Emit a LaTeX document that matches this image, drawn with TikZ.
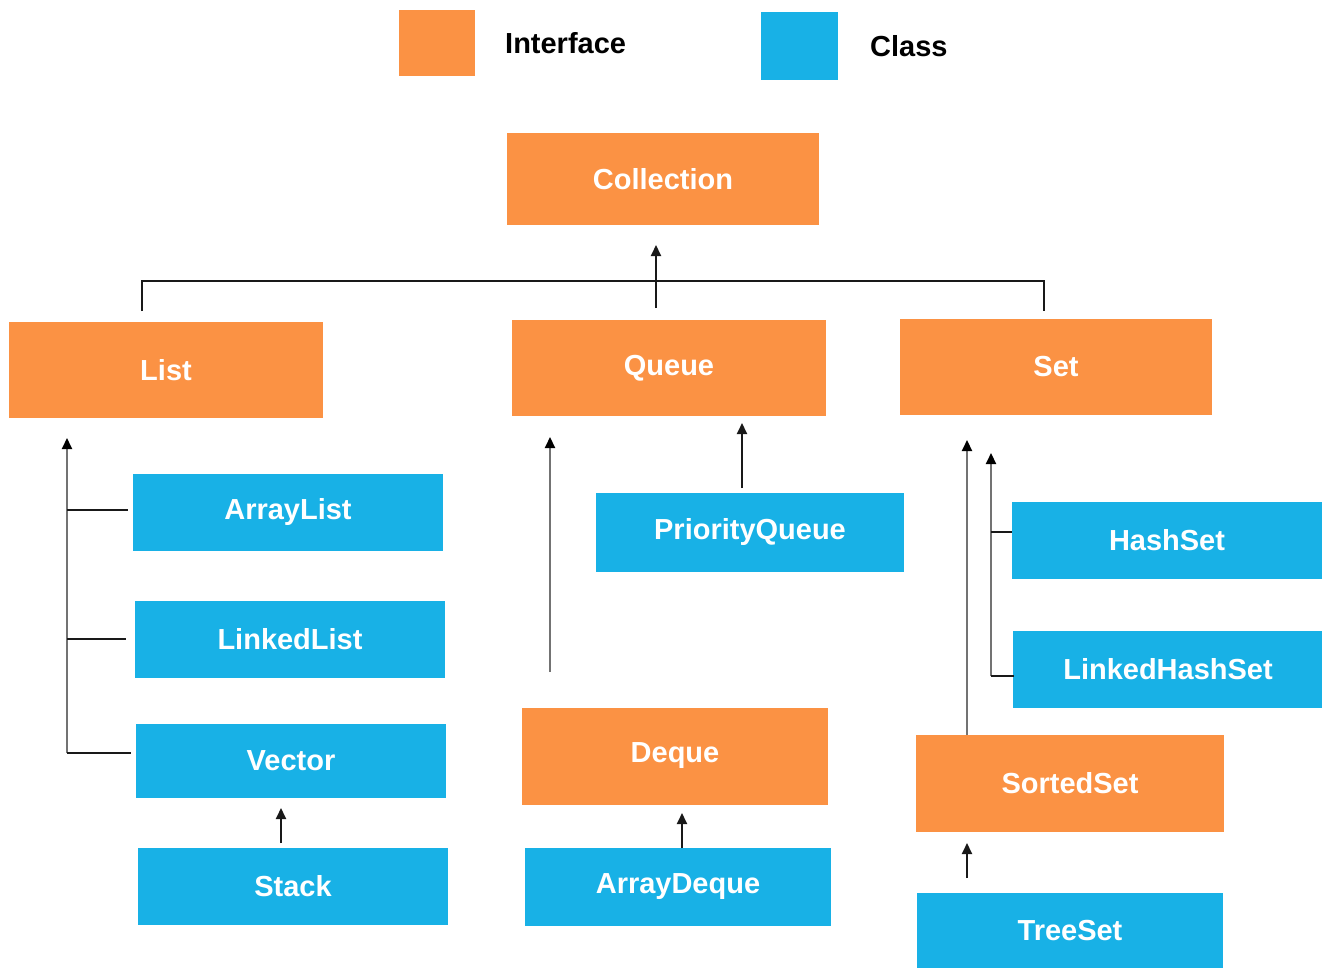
\documentclass[tikz,border=0pt]{standalone}
\usepackage{fontspec}
\setmainfont{Liberation Sans}
\usetikzlibrary{positioning}
\usetikzlibrary{arrows.meta}
\definecolor{ifaceorange}{RGB}{251,146,68}
\definecolor{classblue}{RGB}{24,177,230}

\begin{document}
\begin{tikzpicture}
  [x=0.02cm, y=-0.02cm,
   every node/.style = {font=\fontsize{16.5}{20}\selectfont\bfseries, inner sep=0pt},
   iface/.style = {fill=ifaceorange, text=white, minimum width=6.24cm, minimum height=1.94cm},
   cls/.style = {fill=classblue, text=white, minimum width=6.2cm, minimum height=1.54cm},
   link/.style = {line width=1.1pt, black!90},
   glink/.style = {line width=1.2pt, black!55},
   uplink/.style = {link, -{Triangle[length=0.22cm, width=0.2cm]}},
   guplink/.style = {glink, -{Triangle[length=0.22cm, width=0.2cm, color=black]}}]
  \useasboundingbox (0,0) rectangle (1322,967);

  % legend
  \node (keyi) [fill=ifaceorange, minimum width=1.54cm, minimum height=1.34cm] at (437,43) {};
  \node (keyitext) [right=0.58cm of keyi] {Interface};
  \node (keyc) [fill=classblue, minimum width=1.54cm, minimum height=1.36cm] at (799,46) {};
  \node (keyctext) [right=0.64cm of keyc] {Class};

  % interfaces
  \node (coll) [iface, minimum height=1.84cm] at (663,179) {Collection};
  \node (list) [iface, minimum width=6.28cm] at (166,370) {List};
  \node (queue) [iface, minimum width=6.28cm] at (669,368) {Queue};
  \node (set) [iface] at (1056,367) {Set};
  \node (deque) [iface, minimum width=6.12cm] at (675,756) {Deque};
  \node (sorted) [iface, minimum width=6.18cm] at (1070,783) {SortedSet};

  % classes
  \node (alist) [cls] at (288,512) {ArrayList};
  \node (llist) [cls] at (290,639) {LinkedList};
  \node (vector) [cls, minimum height=1.48cm] at (291,761) {Vector};
  \node (stack) [cls] at (293,886) {Stack};
  \node (pqueue) [cls, minimum width=6.16cm, minimum height=1.58cm] at (750,532) {PriorityQueue};
  \node (adeque) [cls, minimum width=6.14cm, minimum height=1.56cm] at (678,887) {ArrayDeque};
  \node (hset) [cls] at (1167,540) {HashSet};
  \node (lhset) [cls] at (1168,669) {LinkedHashSet};
  \node (tset) [cls, minimum width=6.14cm] at (1070,931) {TreeSet};

  % connector points
  \coordinate (busl) at (142,311);
  \coordinate (busm) at (656,281);
  \coordinate (busr) at (1044,311);
  \coordinate (colltip) at (656,245);
  \coordinate (busup) at (656,308);
  \coordinate (ltip) at (67,438);
  \coordinate (lroot) at (67,753);
  \coordinate (qtip) at (550,437);
  \coordinate (qroot) at (550,672);
  \coordinate (pqtip) at (742,423);
  \coordinate (stip) at (967,440);
  \coordinate (stip2) at (991,453);
  \coordinate (sroot2) at (991,676);

  % top level
  \draw[link] (busl) |- (busm) -| (busr);
  \draw[uplink] (busup) -- (colltip);

  % list branch
  \draw[guplink] (lroot) -- (ltip);
  \draw[link] (lroot |- 0,510) -- (128,510);
  \draw[link] (lroot |- 0,639) -- (126,639);
  \draw[link] (lroot) -- (131,753);
  \draw[uplink] (281,843) -- (281,808);

  % queue branch
  \draw[guplink] (qroot) -- (qtip);
  \draw[uplink] (742,488) -- (pqtip);
  \draw[uplink] (682,848) -- (682,813);

  % set branch
  \draw[guplink] (967,735) -- (stip);
  \draw[guplink] (sroot2) -- (stip2);
  \draw[link] (991,532) -- (1012,532);
  \draw[link] (sroot2) -- (1014,676);
  \draw[uplink] (967,878) -- (967,843);
\end{tikzpicture}
\end{document}
